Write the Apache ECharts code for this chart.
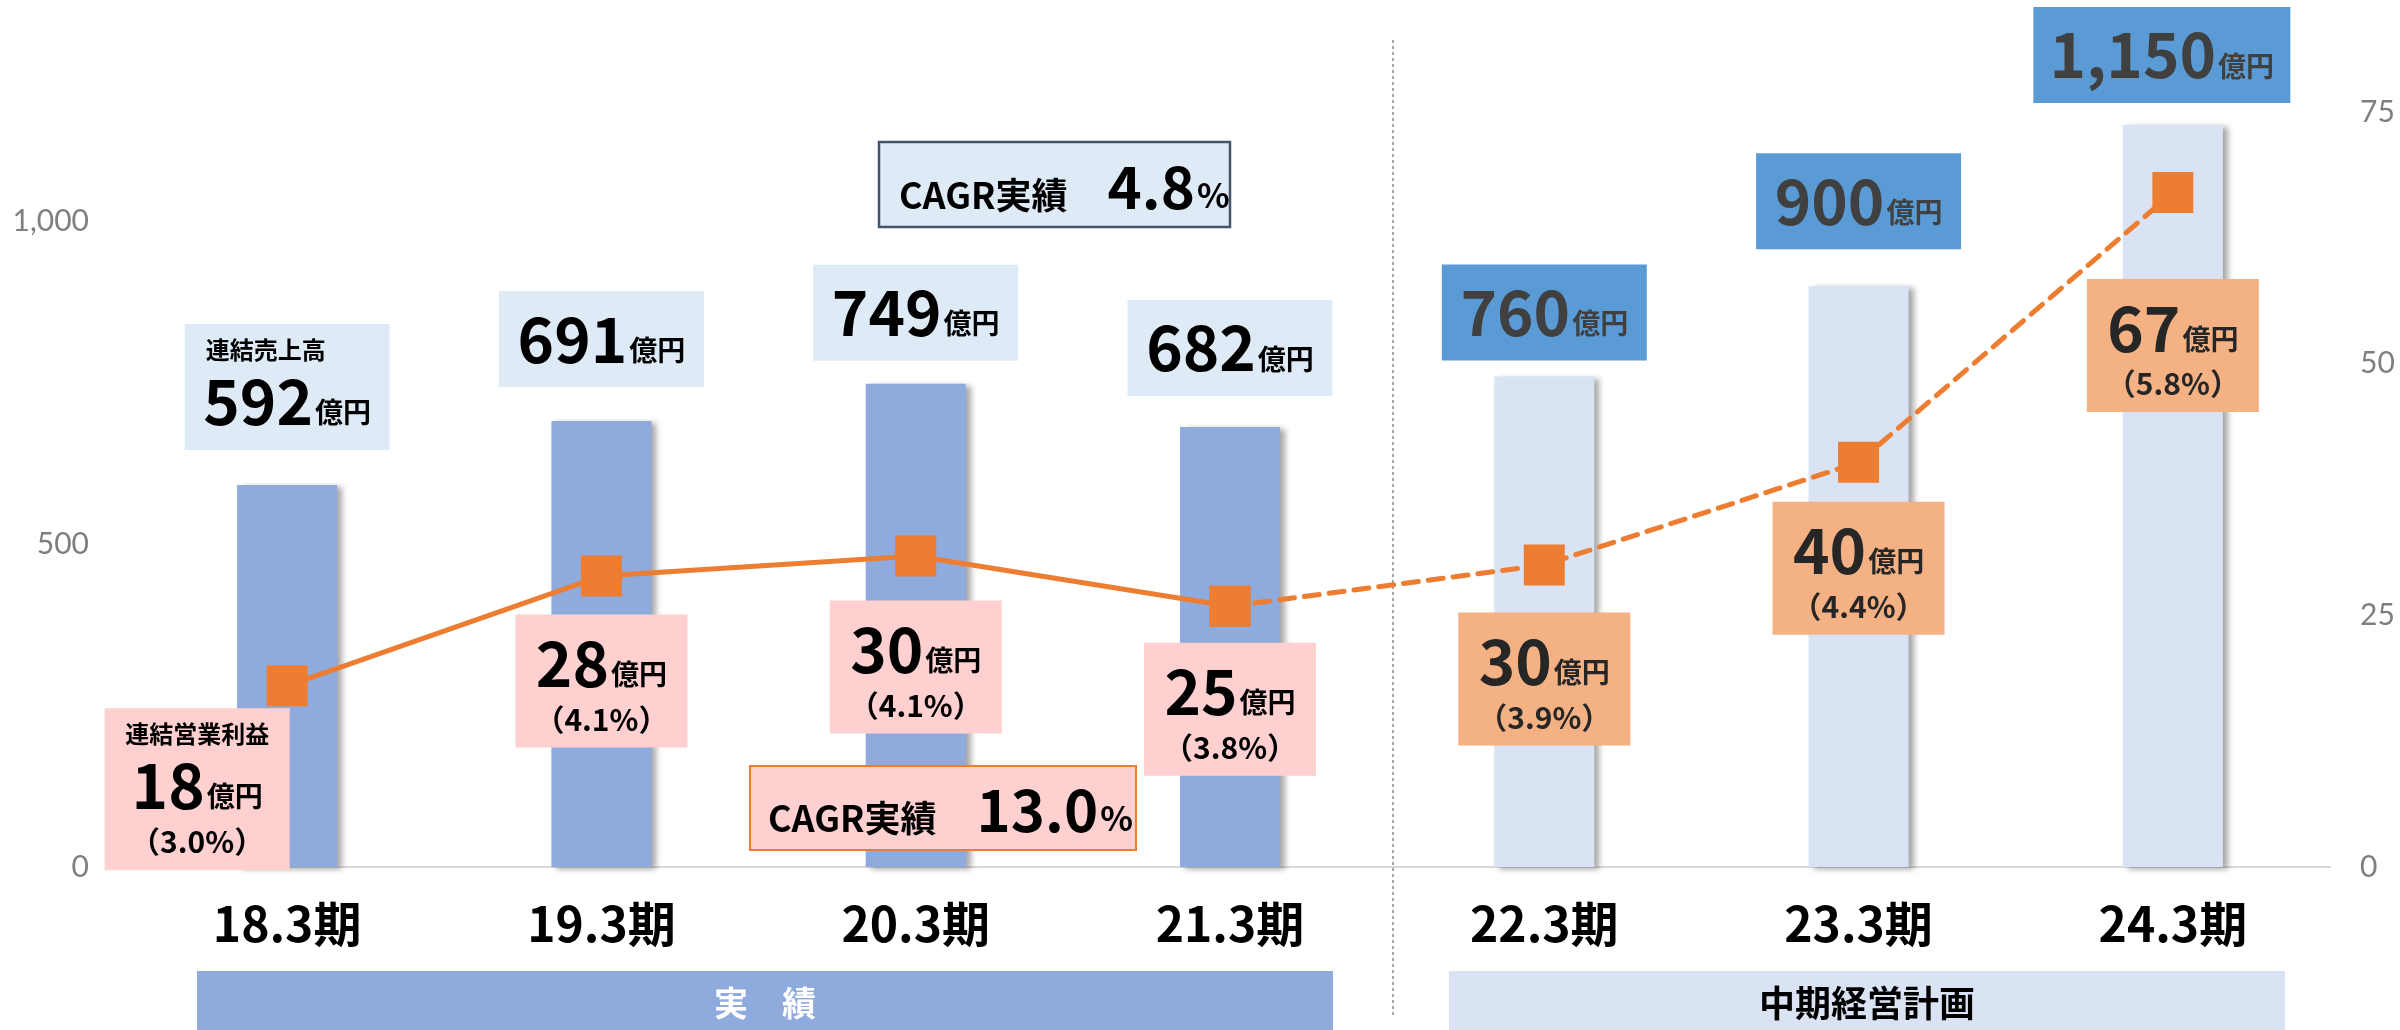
<!DOCTYPE html>
<html>
<head>
<meta charset="utf-8">
<script src="https://cdn.jsdelivr.net/npm/echarts@6/dist/echarts.min.js"></script>
<style>
  html, body { margin: 0; padding: 0; background: #fff; }
  #chart { width: 2400px; height: 1030px; }
</style>
</head>
<body>
<div id="chart"></div>
<script>
const periods = ['18.3期', '19.3期', '20.3期', '21.3期', '22.3期', '23.3期', '24.3期']
const sales = [592, 691, 749, 682, 760, 900, 1150]          // 連結売上高（億円）
const profit = [18.0, 28.9, 30.9, 25.9, 30.0, 40.2, 67.0]   // 連結営業利益（億円）
const profitText = ['18', '28', '30', '25', '30', '40', '67']
const marginText = ['3.0', '4.1', '4.1', '3.8', '3.9', '4.4', '5.8']
const salesTicks = [0, 500, 1000]
const profitTicks = [0, 25, 50, 75]
const actualCount = 4 // 18.3〜21.3期が実績、22.3期以降は中期経営計画

const FONT = '"Noto Sans CJK JP", "Noto Sans", sans-serif'
const ORANGE = '#ED7D31'

// ラベル枠の微調整（上下のずれ, px）
const salesLabelDy = [-8, -7, 4, -4, 11, -10, 5]
const profitLabelDy = [-14, 2, 8, 0, 11, 3, 50]

function salesLabel(p) {
  const i = p.dataIndex
  const n = sales[i].toLocaleString('en-US')
  return (i === 0 ? '{t|連結売上高}\n' : '') + '{n|' + n + '}{u|億円}'
}

function profitLabel(p) {
  const i = p.dataIndex
  return (i === 0 ? '{t|連結営業利益}\n' : '') +
    '{n|' + profitText[i] + '}{u|億円}\n{p|（' + marginText[i] + '%）}'
}

const richBase = {
  t: { fontSize: 24, fontWeight: 'bold', fontFamily: FONT, lineHeight: 38 },
  n: { fontSize: 62, fontWeight: 'bold', fontFamily: FONT, lineHeight: 64 },
  u: { fontSize: 28, fontWeight: 'bold', fontFamily: FONT, padding: [22, 0, 0, 2] },
  p: { fontSize: 30, fontWeight: 'bold', fontFamily: FONT, lineHeight: 48 }
}

const salesData = sales.map((v, i) => {
  const actual = i < actualCount
  const last = i === sales.length - 1
  return {
    value: v,
    itemStyle: { color: actual ? '#8FAADC' : '#DAE3F3' },
    label: {
      backgroundColor: actual ? '#DEEBF7' : '#5B9BD5',
      color: actual ? '#000' : '#404040',
      width: last ? 257 : 205,
      padding: i === 0 ? [7, 0, 17, 0] : [16, 0, 16, 0],
      offset: [last ? -11 : 0, salesLabelDy[i]]
    }
  }
})

function profitItem(v, i) {
  const actual = i < actualCount
  return {
    value: v,
    label: {
      backgroundColor: actual ? '#FFD0D0' : '#F4B183',
      color: actual ? '#000' : '#262626',
      width: i === 0 ? 185 : 172,
      padding: i === 0 ? [7, 0, 5, 0] : [17, 0, 4, 0],
      offset: [i === 0 ? -90 : 0, profitLabelDy[i]]
    }
  }
}

// 実績は実線、計画は破線
const profitSolid = profit.map((v, i) => i < actualCount ? profitItem(v, i) : '-')
const profitDashed = profit.map((v, i) => {
  if (i < actualCount - 1) return '-'
  if (i === actualCount - 1) return { value: v, label: { show: false } }
  return profitItem(v, i)
})

const cagrRich = {
  a: { fontSize: 36, fontWeight: 'bold', fontFamily: FONT, padding: [17, 0, 0, 0] },
  b: { fontSize: 58, fontWeight: 'bold', fontFamily: FONT, padding: [0, 0, 0, 40] },
  c: { fontSize: 34, fontWeight: 'bold', fontFamily: FONT, padding: [16, 0, 0, 2] }
}

const chart = echarts.init(document.getElementById('chart'))

chart.setOption({
  animation: false,
  backgroundColor: '#fff',
  grid: {
    left: 130,
    right: 70,
    top: 112,
    bottom: 163,
    outerBoundsMode: 'none'
  },
  xAxis: {
    type: 'category',
    data: periods,
    axisTick: { show: false },
    axisLine: { lineStyle: { color: '#D9D9D9', width: 2 } },
    axisLabel: {
      margin: 33,
      fontSize: 48,
      fontWeight: 'bold',
      fontFamily: FONT,
      color: '#000'
    }
  },
  yAxis: [
    {
      type: 'value',
      min: salesTicks[0],
      max: 1170,
      interval: salesTicks[1] - salesTicks[0],
      splitLine: { show: false },
      axisLine: { show: false },
      axisTick: { show: false },
      axisLabel: {
        showMaxLabel: false,
        margin: 41,
        fontSize: 30,
        fontFamily: 'Lato, "Noto Sans", sans-serif',
        color: '#7F7F7F',
        formatter: v => v.toLocaleString('en-US')
      }
    },
    {
      type: 'value',
      position: 'right',
      min: profitTicks[0],
      max: profitTicks[profitTicks.length - 1],
      interval: profitTicks[1] - profitTicks[0],
      splitLine: { show: false },
      axisLine: { show: false },
      axisTick: { show: false },
      axisLabel: {
        margin: 30,
        fontSize: 30,
        fontFamily: 'Lato, "Noto Sans", sans-serif',
        color: '#7F7F7F'
      }
    }
  ],
  series: [
    {
      name: '連結売上高',
      type: 'bar',
      yAxisIndex: 0,
      barWidth: 100,
      data: salesData,
      itemStyle: {
        shadowBlur: 6,
        shadowOffsetX: 5,
        shadowOffsetY: 2,
        shadowColor: 'rgba(0, 0, 0, 0.35)'
      },
      label: {
        show: true,
        position: 'top',
        distance: 27,
        formatter: salesLabel,
        rich: {
          t: Object.assign({}, richBase.t, { align: 'left', padding: [0, 0, 0, 21] }),
          n: richBase.n,
          u: richBase.u
        }
      },
      z: 2
    },
    {
      name: '連結営業利益',
      type: 'line',
      yAxisIndex: 1,
      data: profitSolid,
      symbol: 'rect',
      symbolSize: 41,
      showSymbol: true,
      lineStyle: { color: ORANGE, width: 5 },
      itemStyle: { color: ORANGE },
      label: {
        show: true,
        position: 'bottom',
        distance: 16,
        formatter: profitLabel,
        rich: richBase
      },
      z: 5
    },
    {
      name: '連結営業利益（計画）',
      type: 'line',
      yAxisIndex: 1,
      data: profitDashed,
      symbol: 'rect',
      symbolSize: 41,
      showSymbol: true,
      lineStyle: { color: ORANGE, width: 5, type: [15, 10], cap: 'round' },
      itemStyle: { color: ORANGE },
      label: {
        show: true,
        position: 'bottom',
        distance: 16,
        formatter: profitLabel,
        rich: richBase
      },
      z: 4
    }
  ],
  graphic: [
    // 実績 / 計画 の区切り線
    {
      type: 'line',
      z: 0,
      shape: { x1: 1393, y1: 40, x2: 1393, y2: 1017 },
      style: { stroke: '#A6A6A6', lineWidth: 2, lineDash: [3, 3] }
    },
    // 下部の帯
    {
      type: 'rect',
      shape: { x: 197, y: 971, width: 1136, height: 59 },
      style: { fill: '#8FAADC' }
    },
    {
      type: 'text',
      x: 765,
      y: 1003,
      style: {
        text: '実　績',
        fill: '#fff',
        font: 'bold 34px ' + FONT,
        align: 'center',
        verticalAlign: 'middle'
      }
    },
    {
      type: 'rect',
      shape: { x: 1449, y: 971, width: 836, height: 59 },
      style: { fill: '#DAE3F3' }
    },
    {
      type: 'text',
      x: 1867,
      y: 1003,
      style: {
        text: '中期経営計画',
        fill: '#000',
        font: 'bold 36px ' + FONT,
        align: 'center',
        verticalAlign: 'middle'
      }
    },
    // CAGR（売上高）
    {
      type: 'rect',
      z: 20,
      shape: { x: 879, y: 142, width: 351, height: 85 },
      style: { fill: '#DEEBF7', stroke: '#44546A', lineWidth: 2.5 }
    },
    {
      type: 'text',
      z: 21,
      x: 899,
      y: 187,
      style: {
        text: '{a|CAGR実績}{b|4.8}{c|%}',
        align: 'left',
        verticalAlign: 'middle',
        fill: '#000',
        rich: cagrRich
      }
    },
    // CAGR（営業利益）
    {
      type: 'rect',
      z: 20,
      shape: { x: 750, y: 766, width: 386, height: 84 },
      style: { fill: '#FFD0D0', stroke: ORANGE, lineWidth: 2 }
    },
    {
      type: 'text',
      z: 21,
      x: 768,
      y: 810,
      style: {
        text: '{a|CAGR実績}{b|13.0}{c|%}',
        align: 'left',
        verticalAlign: 'middle',
        fill: '#000',
        rich: cagrRich
      }
    }
  ]
})
</script>
</body>
</html>
